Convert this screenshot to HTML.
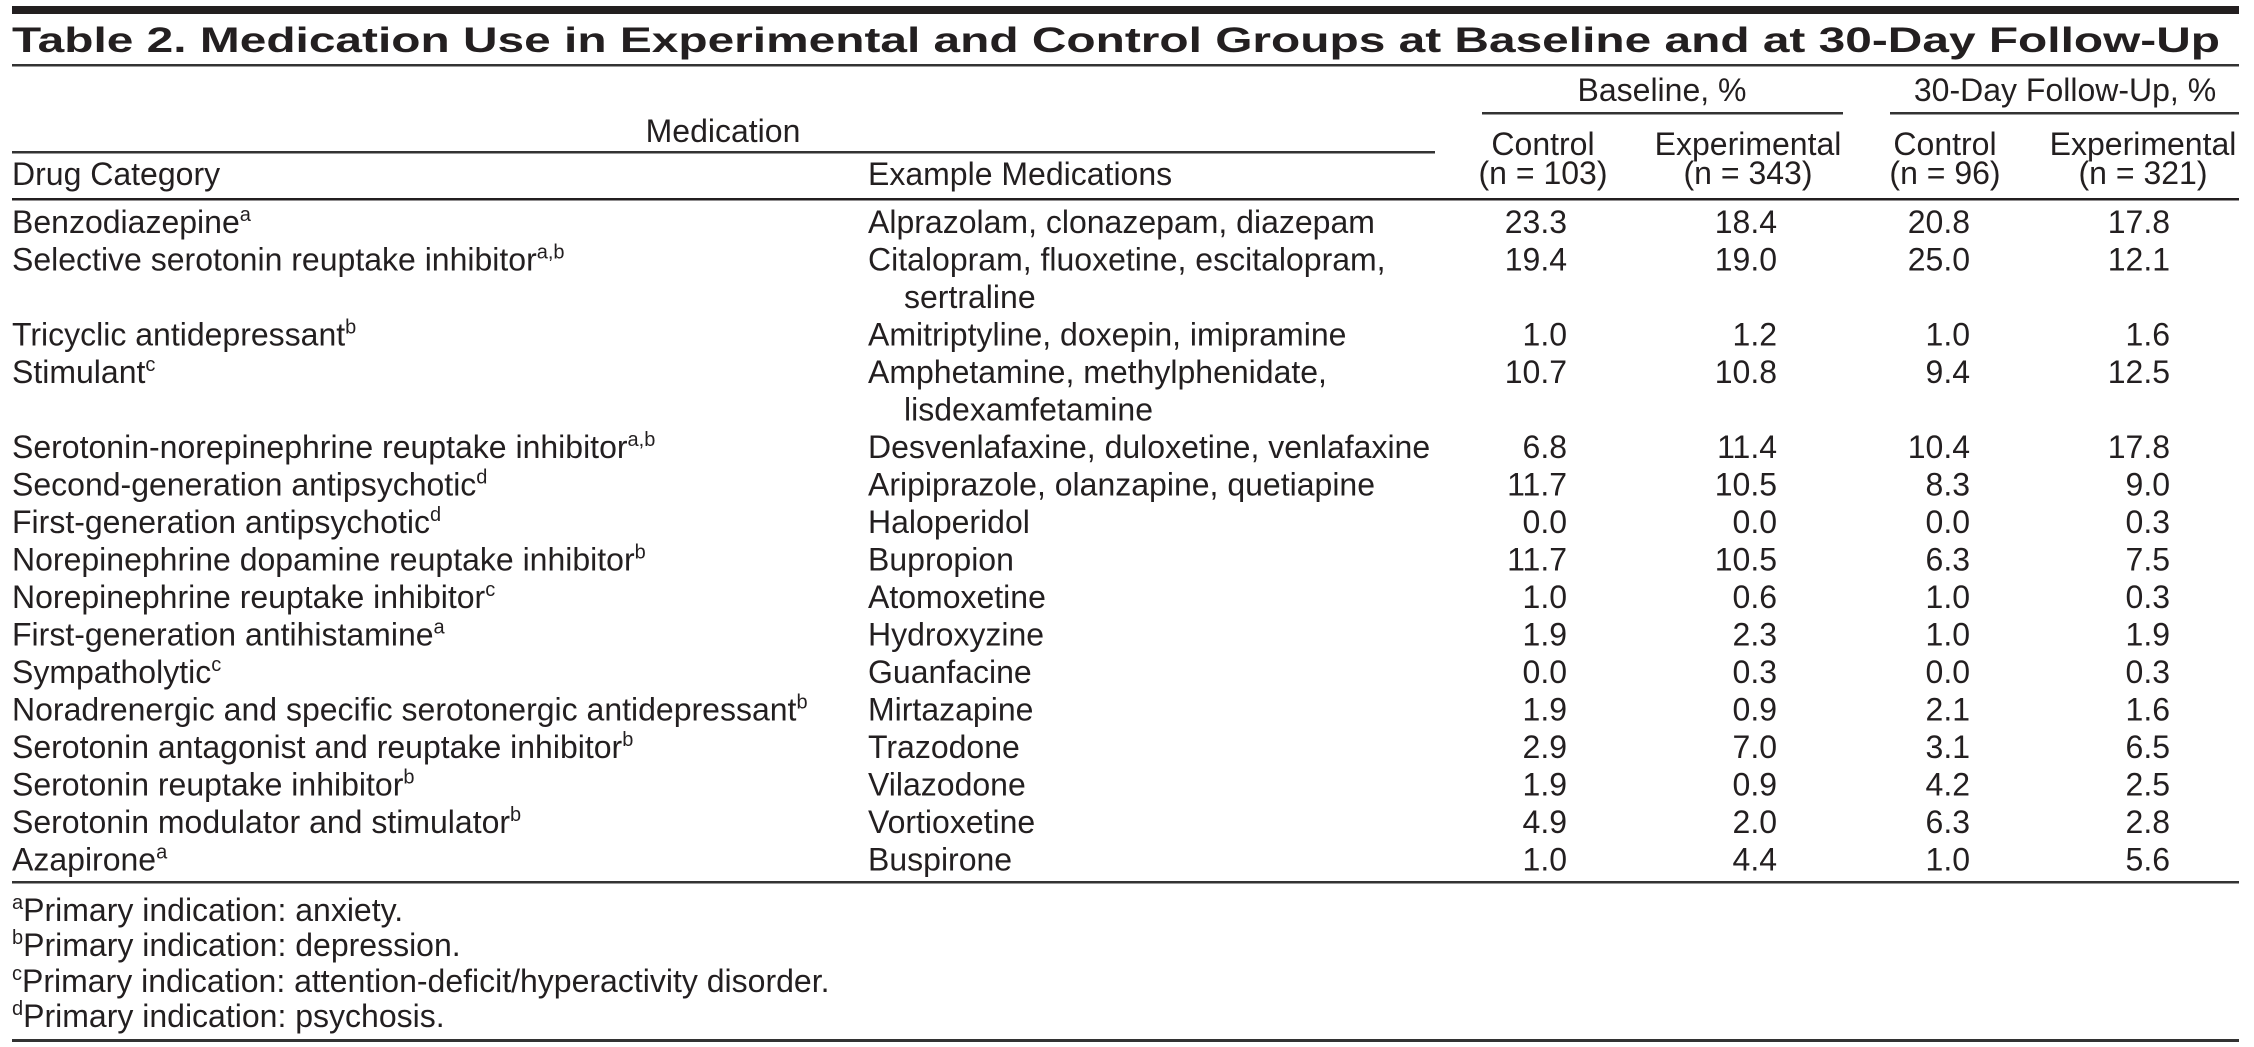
<!DOCTYPE html>
<html><head><meta charset="utf-8"><style>
html,body{margin:0;padding:0;background:#fff;}
svg{display:block;}
text{font-family:"Liberation Sans",Arial,sans-serif;fill:#231f20;font-size:32px;}
.t{font-weight:bold;font-size:35px;}
.c{text-anchor:middle;}
.r{text-anchor:end;}
.s{font-size:20px;}
</style></head><body>
<svg width="2254" height="1047" viewBox="0 0 2254 1047" xmlns="http://www.w3.org/2000/svg">
<rect x="12" y="6" width="2227" height="8" fill="#231f20"/>
<text class="t" x="12" y="52" textLength="2208" lengthAdjust="spacingAndGlyphs">Table 2. Medication Use in Experimental and Control Groups at Baseline and at 30-Day Follow-Up</text>
<rect x="12" y="64" width="2227" height="2.5" fill="#333"/>
<text class="c" x="1662" y="101">Baseline, %</text>
<text class="c" x="2065" y="101">30-Day Follow-Up, %</text>
<rect x="1482" y="112" width="361" height="2.5" fill="#333"/>
<rect x="1890" y="112" width="349" height="2.5" fill="#333"/>
<text class="c" x="723" y="142">Medication</text>
<rect x="12" y="151" width="1423" height="2.5" fill="#333"/>
<text class="c" x="1543" y="155">Control</text>
<text class="c" x="1748" y="155">Experimental</text>
<text class="c" x="1945" y="155">Control</text>
<text class="c" x="2143" y="155">Experimental</text>
<text x="12" y="185">Drug Category</text>
<text x="868" y="185">Example Medications</text>
<text class="c" x="1543" y="184">(n = 103)</text>
<text class="c" x="1748" y="184">(n = 343)</text>
<text class="c" x="1945" y="184">(n = 96)</text>
<text class="c" x="2143" y="184">(n = 321)</text>
<rect x="12" y="198" width="2227" height="2.5" fill="#231f20"/>

<g id="rows">
<text x="12" y="233">Benzodiazepine<tspan class="s" dy="-12">a</tspan></text>
<text x="868" y="233">Alprazolam, clonazepam, diazepam</text>
<text class="r" x="1567" y="233">23.3</text><text class="r" x="1777" y="233">18.4</text><text class="r" x="1970" y="233">20.8</text><text class="r" x="2170" y="233">17.8</text>

<text x="12" y="270.5">Selective serotonin reuptake inhibitor<tspan class="s" dy="-12">a,b</tspan></text>
<text x="868" y="270.5">Citalopram, fluoxetine, escitalopram,</text>
<text x="904" y="308">sertraline</text>
<text class="r" x="1567" y="270.5">19.4</text><text class="r" x="1777" y="270.5">19.0</text><text class="r" x="1970" y="270.5">25.0</text><text class="r" x="2170" y="270.5">12.1</text>

<text x="12" y="345.5">Tricyclic antidepressant<tspan class="s" dy="-12">b</tspan></text>
<text x="868" y="345.5">Amitriptyline, doxepin, imipramine</text>
<text class="r" x="1567" y="345.5">1.0</text><text class="r" x="1777" y="345.5">1.2</text><text class="r" x="1970" y="345.5">1.0</text><text class="r" x="2170" y="345.5">1.6</text>

<text x="12" y="383">Stimulant<tspan class="s" dy="-12">c</tspan></text>
<text x="868" y="383">Amphetamine, methylphenidate,</text>
<text x="904" y="420.5">lisdexamfetamine</text>
<text class="r" x="1567" y="383">10.7</text><text class="r" x="1777" y="383">10.8</text><text class="r" x="1970" y="383">9.4</text><text class="r" x="2170" y="383">12.5</text>

<text x="12" y="458">Serotonin-norepinephrine reuptake inhibitor<tspan class="s" dy="-12">a,b</tspan></text>
<text x="868" y="458">Desvenlafaxine, duloxetine, venlafaxine</text>
<text class="r" x="1567" y="458">6.8</text><text class="r" x="1777" y="458">11.4</text><text class="r" x="1970" y="458">10.4</text><text class="r" x="2170" y="458">17.8</text>

<text x="12" y="495.5">Second-generation antipsychotic<tspan class="s" dy="-12">d</tspan></text>
<text x="868" y="495.5">Aripiprazole, olanzapine, quetiapine</text>
<text class="r" x="1567" y="495.5">11.7</text><text class="r" x="1777" y="495.5">10.5</text><text class="r" x="1970" y="495.5">8.3</text><text class="r" x="2170" y="495.5">9.0</text>

<text x="12" y="533">First-generation antipsychotic<tspan class="s" dy="-12">d</tspan></text>
<text x="868" y="533">Haloperidol</text>
<text class="r" x="1567" y="533">0.0</text><text class="r" x="1777" y="533">0.0</text><text class="r" x="1970" y="533">0.0</text><text class="r" x="2170" y="533">0.3</text>

<text x="12" y="570.5">Norepinephrine dopamine reuptake inhibitor<tspan class="s" dy="-12">b</tspan></text>
<text x="868" y="570.5">Bupropion</text>
<text class="r" x="1567" y="570.5">11.7</text><text class="r" x="1777" y="570.5">10.5</text><text class="r" x="1970" y="570.5">6.3</text><text class="r" x="2170" y="570.5">7.5</text>

<text x="12" y="608">Norepinephrine reuptake inhibitor<tspan class="s" dy="-12">c</tspan></text>
<text x="868" y="608">Atomoxetine</text>
<text class="r" x="1567" y="608">1.0</text><text class="r" x="1777" y="608">0.6</text><text class="r" x="1970" y="608">1.0</text><text class="r" x="2170" y="608">0.3</text>

<text x="12" y="645.5">First-generation antihistamine<tspan class="s" dy="-12">a</tspan></text>
<text x="868" y="645.5">Hydroxyzine</text>
<text class="r" x="1567" y="645.5">1.9</text><text class="r" x="1777" y="645.5">2.3</text><text class="r" x="1970" y="645.5">1.0</text><text class="r" x="2170" y="645.5">1.9</text>

<text x="12" y="683">Sympatholytic<tspan class="s" dy="-12">c</tspan></text>
<text x="868" y="683">Guanfacine</text>
<text class="r" x="1567" y="683">0.0</text><text class="r" x="1777" y="683">0.3</text><text class="r" x="1970" y="683">0.0</text><text class="r" x="2170" y="683">0.3</text>

<text x="12" y="720.5">Noradrenergic and specific serotonergic antidepressant<tspan class="s" dy="-12">b</tspan></text>
<text x="868" y="720.5">Mirtazapine</text>
<text class="r" x="1567" y="720.5">1.9</text><text class="r" x="1777" y="720.5">0.9</text><text class="r" x="1970" y="720.5">2.1</text><text class="r" x="2170" y="720.5">1.6</text>

<text x="12" y="758">Serotonin antagonist and reuptake inhibitor<tspan class="s" dy="-12">b</tspan></text>
<text x="868" y="758">Trazodone</text>
<text class="r" x="1567" y="758">2.9</text><text class="r" x="1777" y="758">7.0</text><text class="r" x="1970" y="758">3.1</text><text class="r" x="2170" y="758">6.5</text>

<text x="12" y="795.5">Serotonin reuptake inhibitor<tspan class="s" dy="-12">b</tspan></text>
<text x="868" y="795.5">Vilazodone</text>
<text class="r" x="1567" y="795.5">1.9</text><text class="r" x="1777" y="795.5">0.9</text><text class="r" x="1970" y="795.5">4.2</text><text class="r" x="2170" y="795.5">2.5</text>

<text x="12" y="833">Serotonin modulator and stimulator<tspan class="s" dy="-12">b</tspan></text>
<text x="868" y="833">Vortioxetine</text>
<text class="r" x="1567" y="833">4.9</text><text class="r" x="1777" y="833">2.0</text><text class="r" x="1970" y="833">6.3</text><text class="r" x="2170" y="833">2.8</text>

<text x="12" y="870.5">Azapirone<tspan class="s" dy="-12">a</tspan></text>
<text x="868" y="870.5">Buspirone</text>
<text class="r" x="1567" y="870.5">1.0</text><text class="r" x="1777" y="870.5">4.4</text><text class="r" x="1970" y="870.5">1.0</text><text class="r" x="2170" y="870.5">5.6</text>
</g>

<rect x="12" y="881" width="2227" height="2.5" fill="#333"/>
<text x="12" y="921"><tspan class="s" dy="-12">a</tspan><tspan dy="12">Primary indication: anxiety.</tspan></text>
<text x="12" y="956"><tspan class="s" dy="-12">b</tspan><tspan dy="12">Primary indication: depression.</tspan></text>
<text x="12" y="992"><tspan class="s" dy="-12">c</tspan><tspan dy="12">Primary indication: attention-deficit/hyperactivity disorder.</tspan></text>
<text x="12" y="1027"><tspan class="s" dy="-12">d</tspan><tspan dy="12">Primary indication: psychosis.</tspan></text>
<rect x="12" y="1039" width="2227" height="3" fill="#333"/>
</svg>
</body></html>
